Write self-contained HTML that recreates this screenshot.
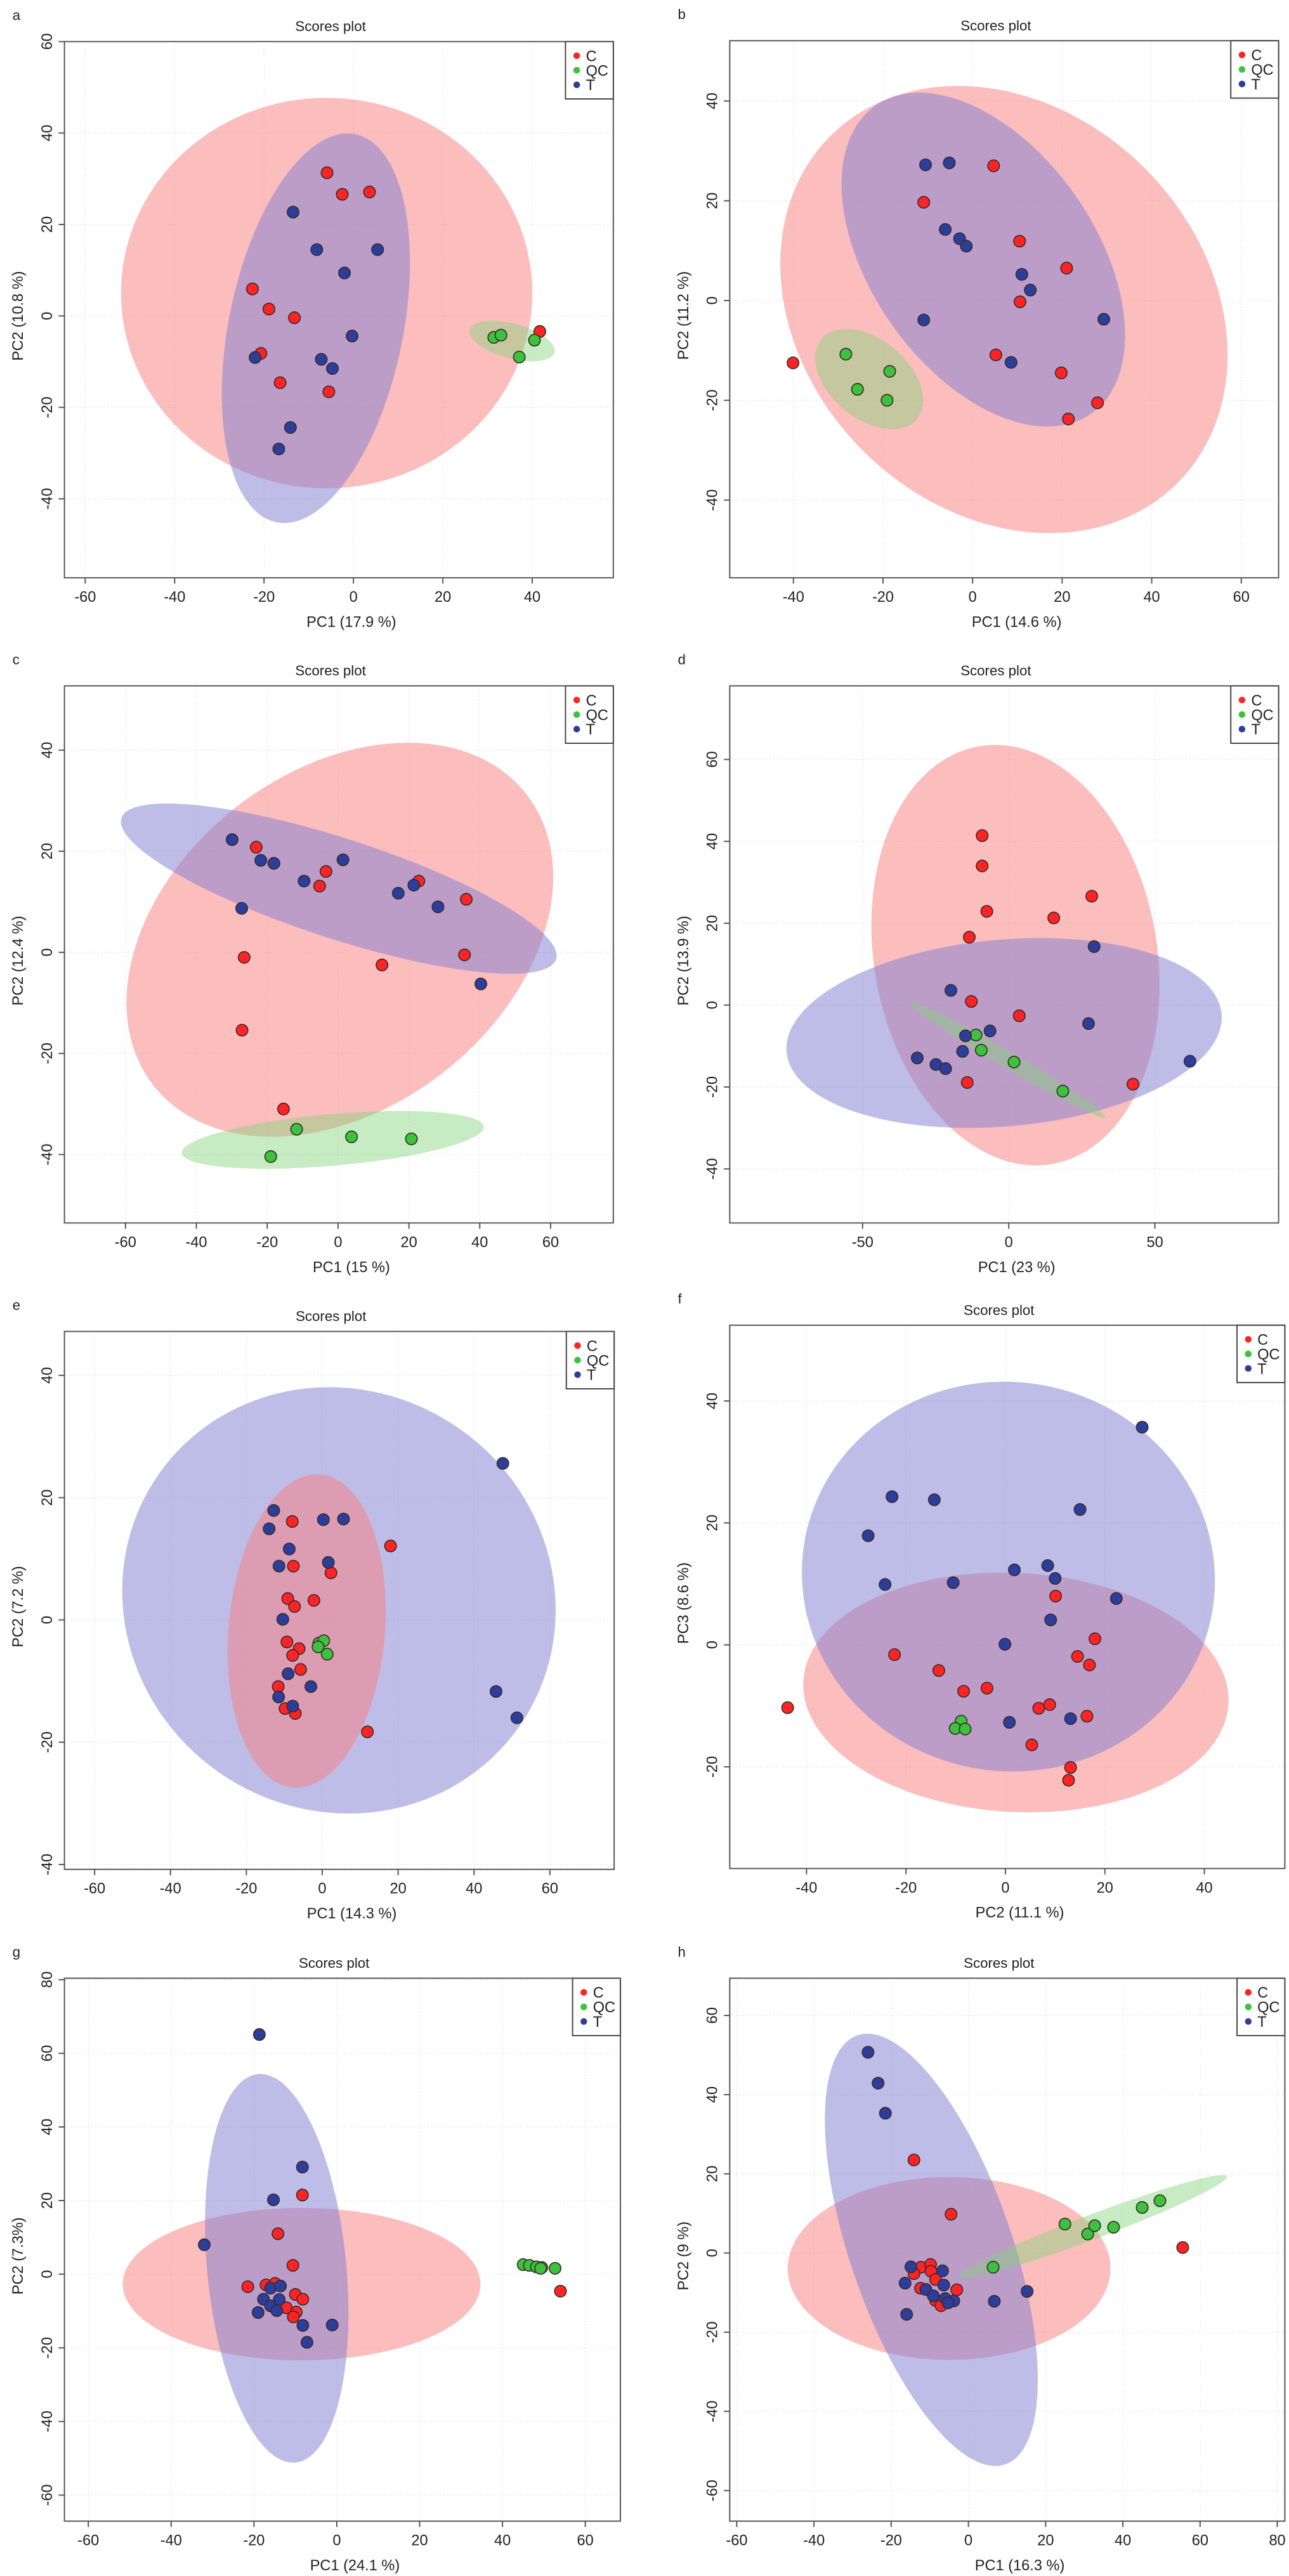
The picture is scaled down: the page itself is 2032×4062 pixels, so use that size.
<!DOCTYPE html>
<html><head><meta charset="utf-8"><style>
html,body{margin:0;padding:0;background:#fff}
svg{display:block}
text{font-family:"Liberation Sans",sans-serif;fill:#222}
</style></head><body>
<svg id="fig" xmlns="http://www.w3.org/2000/svg" width="2032" height="4062" viewBox="0 0 2032 4062"></svg>
<script>
// ---- data (PC scores) ----
const aC=[[-5.9,31.3],[-2.5,26.6],[3.6,27.1],[-22.6,5.9],[-18.9,1.5],[-13.2,-0.4],[-20.7,-8.2],[-16.4,-14.6],[-5.5,-16.6],[41.7,-3.4]];
const aT=[[-13.5,22.7],[-8.2,14.5],[5.4,14.5],[-2,9.4],[-0.3,-4.4],[-22,-9.1],[-7.2,-9.5],[-4.7,-11.5],[-14.1,-24.4],[-16.7,-29.1]];
const aQC=[[31.4,-4.7],[33,-4.2],[40.5,-5.3],[37.1,-9]];
const bC=[[4.7,27],[-10.9,19.7],[10.5,11.9],[21,6.5],[10.6,-0.25],[5.2,-10.9],[19.8,-14.5],[27.9,-20.5],[21.4,-23.75],[-40.1,-12.5]];
const bT=[[-10.5,27.2],[-5.2,27.6],[-6.1,14.25],[-2.9,12.4],[-1.4,10.9],[11,5.25],[12.9,2.1],[-10.9,-3.9],[29.3,-3.75],[8.6,-12.4]];
const bQC=[[-28.3,-10.75],[-18.5,-14.2],[-25.7,-17.8],[-19.1,-20]];
const cC=[[-23.1,20.8],[-3.4,16],[-5.2,13.1],[22.8,14.1],[36.2,10.5],[-26.5,-1],[12.4,-2.5],[35.7,-0.5],[-27.1,-15.4],[-15.4,-31]];
const cT=[[-29.9,22.3],[-21.8,18.2],[-18.1,17.6],[1.4,18.3],[-9.6,14.1],[17,11.7],[21.4,13.3],[28.2,9],[-27.2,8.7],[40.3,-6.25]];
const cQC=[[-11.7,-35],[3.8,-36.5],[20.7,-36.9],[-19,-40.4]];
const dC=[[-9.1,41.4],[-9.1,34],[-7.5,22.9],[28.4,26.6],[15.4,21.3],[-13.5,16.6],[-12.8,0.9],[3.6,-2.6],[-14.2,-18.9],[42.5,-19.3]];
const dT=[[29.2,14.3],[-19.8,3.6],[27.3,-4.5],[-6.4,-6.3],[-14.8,-7.5],[-15.8,-11.3],[-31.3,-12.9],[-24.9,-14.5],[-21.6,-15.5],[62,-13.7]];
const dQC=[[-11.2,-7.3],[-9.4,-11],[1.8,-13.9],[18.5,-21]];
const eC=[[-7.9,16.1],[-7.6,8.8],[2.3,7.7],[18,12.1],[-9.1,3.5],[-7.3,2.2],[-2.2,3.2],[-9.3,-3.6],[-6.1,-4.7],[-7.8,-5.8],[-5.7,-8.1],[-11.6,-10.9],[-9.8,-14.5],[-7.1,-15.3],[11.9,-18.3]];
const eT=[[-12.8,17.9],[-14,14.9],[0.3,16.4],[5.6,16.5],[-8.7,11.6],[-11.4,8.8],[1.6,9.4],[-10.4,0.1],[-9,-8.8],[-3,-10.9],[-11.5,-12.6],[-7.8,-14.1],[47.6,25.6],[45.8,-11.7],[51.3,-16]];
const eQC=[[-0.9,-3.8],[0.4,-3.4],[1.3,-5.6],[-1.1,-4.4]];
const fC=[[10.1,8],[18,1],[-22.3,-1.6],[14.5,-1.9],[16.9,-3.3],[-13.4,-4.2],[-8.4,-7.6],[-3.7,-7.1],[6.7,-10.4],[8.9,-9.8],[16.4,-11.7],[5.3,-16.4],[13.1,-20.1],[12.7,-22.2],[-43.8,-10.3]];
const fT=[[27.5,35.7],[-22.8,24.3],[-14.3,23.8],[15,22.2],[-27.6,17.9],[1.8,12.3],[8.5,13],[10,10.9],[-24.2,9.9],[-10.5,10.2],[22.3,7.6],[9.1,4.1],[-0.1,0.1],[0.8,-12.7],[13.1,-12.1]];
const fQC=[[-8.9,-12.5],[-10.1,-13.7],[-8.1,-13.8]];
const gC=[[-8.3,21.5],[-14.2,11],[-10.6,2.4],[-21.5,-3.4],[-17.1,-2.9],[-14.9,-2.5],[-10,-5.5],[-8.2,-6.8],[-12.2,-9.1],[-9.8,-10.3],[-10.5,-11.6],[54,-4.6]];
const gT=[[-18.7,65.1],[-8.3,29.1],[-15.3,20.2],[-32,8],[-16,-3.8],[-13.6,-3.2],[-17.7,-6.8],[-13.9,-6.9],[-16,-8.6],[-14.5,-9.9],[-19,-10.4],[-8.2,-13.9],[-1.1,-13.8],[-7.2,-18.5]];
const gQC=[[45,2.6],[46.5,2.4],[48.2,2],[49.5,1.8],[49.2,1.6],[52.7,1.6]];
const hC=[[-14.1,23.5],[-4.5,9.8],[55.5,1.4],[-12.3,-3.6],[-9.8,-2.9],[-14.1,-5.2],[-9.7,-4.6],[-8.5,-6.7],[-12.4,-8.9],[-3,-9.3],[-8.5,-12],[-7.1,-13.3]];
const hT=[[-26,50.7],[-23.4,42.9],[-21.5,35.3],[-14.9,-3.5],[-6.7,-4.5],[-16.4,-7.6],[-6.4,-8.1],[-11,-9.2],[-9.1,-10.8],[-6,-11.5],[-3.8,-12.1],[-5.3,-12.6],[6.7,-12.2],[15.2,-9.7],[-16,-15.5]];
const hQC=[[6.4,-3.6],[25,7.3],[30.9,4.8],[32.7,6.9],[37.6,6.5],[45,11.5],[49.6,13.2]];
// confidence ellipses: [cx, cy, rx (x units), ry (y units), angle deg]
const aEll={C:[-6,5,46,42.7,0],T:[-8.4,-2.7,19.5,43.3,11.5],QC:[35.5,-5.5,9.8,3.8,15]};
const bEll={C:[7,-1.8,54.8,40,45],T:[2.4,8.2,42,22.5,55],QC:[-23.1,-15.75,13.9,7.9,40]};
const cEll={C:[0.5,2.5,66.8,33.3,-38],T:[0.2,12.6,64.5,9.9,18],QC:[-1.5,-37.1,42.8,5.1,-5]};
const dEll={C:[2.3,12.2,48.4,51.8,-10],T:[-1.6,-6.8,74.7,22.8,-5],QC:[-0.3,-13.4,38.7,2,30.5]};
const eEll={T:[4.4,3.2,58,34.3,35],C:[-4.1,-1.8,20.6,25.7,5]};
const fEll={C:[2.1,-7.8,42.8,19.6,3],T:[0.6,11.2,41.6,31.9,10]};
const gEll={C:[-8.5,-2.7,43.2,20.7,0],T:[-14.5,1.6,16.8,53,-5.5]};
const hEll={C:[-5,-3.9,41.8,23.1,0],T:[-9.6,0.8,21,57.3,-19],QC:[32.4,6.7,37,3.1,-20.6]};
// tick labels
const ticksX={a:[-60,-40,-20,0,20,40],b:[-40,-20,0,20,40,60],c:[-60,-40,-20,0,20,40,60],d:[-50,0,50],e:[-60,-40,-20,0,20,40,60],f:[-40,-20,0,20,40],g:[-60,-40,-20,0,20,40,60],h:[-60,-40,-20,0,20,40,60,80]};
const ticksY={a:[-40,-20,0,20,40,60],b:[-40,-20,0,20,40],c:[-40,-20,0,20,40],d:[-40,-20,0,20,40,60],e:[-40,-20,0,20,40],f:[-20,0,20,40],g:[-60,-40,-20,0,20,40,60,80],h:[-60,-40,-20,0,20,40,60]};
const xTitles={a:"PC1 (17.9 %)",b:"PC1 (14.6 %)",c:"PC1 (15 %)",d:"PC1 (23 %)",e:"PC1 (14.3 %)",f:"PC2 (11.1 %)",g:"PC1 (24.1 %)",h:"PC1 (16.3 %)"};
const yTitles={a:"PC2 (10.8 %)",b:"PC2 (11.2 %)",c:"PC2 (12.4 %)",d:"PC2 (13.9 %)",e:"PC2 (7.2 %)",f:"PC3 (8.6 %)",g:"PC2 (7.3%)",h:"PC2 (9 %)"};

// ---- layout (panel-local coords, 1550 units per 1016 px) ----
const layout={
 a:{ox:0,oy:0,L:155,R:1475,T:100,B:1390,x0:850,kx:10.75,y0:760,ky:11,ellOrder:["C","T","QC"]},
 b:{ox:1016,oy:0,L:205,R:1525,T:98,B:1390,x0:789,kx:10.77,y0:723,ky:12,ellOrder:["C","T","QC"]},
 c:{ox:0,oy:1016,L:155,R:1475,T:100,B:1392,x0:813,kx:8.52,y0:741,ky:12.16,ellOrder:["C","T","QC"]},
 d:{ox:1016,oy:1016,L:205,R:1525,T:100,B:1392,x0:876,kx:7.03,y0:868,ky:9.85,ellOrder:["C","T","QC"]},
 e:{ox:0,oy:2032,L:155,R:1477,T:103,B:1397,x0:775,kx:9.125,y0:797,ky:14.71,ellOrder:["T","C"]},
 f:{ox:1016,oy:2032,L:205,R:1540,T:88,B:1395,x0:868,kx:11.96,y0:857,ky:14.67,ellOrder:["C","T"]},
 g:{ox:0,oy:3046,L:155,R:1492,T:112,B:1418,x0:810,kx:9.96,y0:824,ky:8.857,ellOrder:["C","T"]},
 h:{ox:1016,oy:3046,L:205,R:1540,T:112,B:1418,x0:779,kx:9.286,y0:773,ky:9.525,ellOrder:["C","T","QC"]}
};
const pts={a:[aC,aQC,aT],b:[bC,bQC,bT],c:[cC,cQC,cT],d:[dC,dQC,dT],e:[eC,eQC,eT],f:[fC,fQC,fT],g:[gC,gQC,gT],h:[hC,hQC,hT]};
const ells={a:aEll,b:bEll,c:cEll,d:dEll,e:eEll,f:fEll,g:gEll,h:hEll};
const fillCol={C:"rgb(250,128,128)",T:"rgb(128,128,210)",QC:"rgb(130,210,120)"};
const ptCol=["#ff2424","#3cc23c","#2c3e9c"];
const NS="http://www.w3.org/2000/svg";
const svg=document.getElementById('fig');
function mk(tag,attrs,parent){const e=document.createElementNS(NS,tag);for(const k in attrs)e.setAttribute(k,attrs[k]);parent.appendChild(e);return e;}

for(const id in layout){
 const P=layout[id];
 const sx=v=>P.x0+v*P.kx, sy=v=>P.y0-v*P.ky;
 const g=mk('g',{transform:`translate(${P.ox},${P.oy}) scale(${1016/1550})`},svg);
 
 
 const grid=mk('g',{},g);
 
 
 ticksX[id].forEach(t=>{const l=mk('line',{x1:sx(t),x2:sx(t),y1:P.T,y2:P.B,stroke:"#e4e4e4","stroke-width":2,"stroke-dasharray":"3 5"},grid);});
 ticksY[id].forEach(t=>{const l=mk('line',{x1:P.L,x2:P.R,y1:sy(t),y2:sy(t),stroke:"#e4e4e4","stroke-width":2,"stroke-dasharray":"3 5"},grid);});
 P.ellOrder.forEach(k=>{const E=ells[id][k];if(!E)return;
  const el=mk('ellipse',{cx:0,cy:0,rx:E[2]*P.kx,ry:E[3]*P.ky,fill:fillCol[k],"fill-opacity":k=="QC"?0.45:0.52,transform:`translate(${sx(E[0])},${sy(E[1])}) rotate(${E[4]})`},g);
  
  });
 pts[id].forEach((arr,gi)=>arr.forEach(p=>{
  const c=mk('circle',{cx:sx(p[0]),cy:sy(p[1]),r:14,fill:ptCol[gi],stroke:"#3a2a2a","stroke-width":2.5},g);
  
  }));
 const fr=mk('rect',{x:P.L,y:P.T,width:P.R-P.L,height:P.B-P.T,fill:"none",stroke:"#555","stroke-width":3},g);
 
 
 ticksX[id].forEach(t=>{
  mk('line',{x1:sx(t),x2:sx(t),y1:P.B,y2:P.B+14,stroke:"#555","stroke-width":3},g);
  const tx=mk('text',{x:sx(t),y:P.B+58,"text-anchor":"middle","font-size":36},g);tx.textContent=t;
  
  });
 ticksY[id].forEach(t=>{
  mk('line',{x1:P.L-14,x2:P.L,y1:sy(t),y2:sy(t),stroke:"#555","stroke-width":3},g);
  const tx=mk('text',{x:0,y:0,"text-anchor":"middle","font-size":36,transform:`translate(${P.L-30},${sy(t)}) rotate(-90)`},g);tx.textContent=t;
  
  });
 const cx=(P.L+P.R)/2;
 const xt=mk('text',{x:cx+30,y:P.B+118,"text-anchor":"middle","font-size":36},g);xt.textContent=xTitles[id];
 
 
 const yt=mk('text',{x:0,y:0,"text-anchor":"middle","font-size":36,transform:`translate(${P.L-100},${(P.T+P.B)/2+15}) rotate(-90)`},g);yt.textContent=yTitles[id];
 
 
 const tt=mk('text',{x:cx-20,y:P.T-25,"text-anchor":"middle","font-size":34},g);tt.textContent="Scores plot";
 
 
 const lt=mk('text',{x:P.L-125,y:P.T-52,"font-size":34},g);lt.textContent=id;
 
 
 const lg=mk('g',{},g);
 
 
 mk('rect',{x:P.R-115,y:P.T,width:115,height:138,fill:"#fff",stroke:"#444","stroke-width":3},lg);
 ["C","QC","T"].forEach((n,i)=>{
  mk('circle',{cx:P.R-88,cy:P.T+34+i*35,r:8,fill:ptCol[i]},lg);
  const t=mk('text',{x:P.R-66,y:P.T+47+i*35,"font-size":36},lg);t.textContent=n;
  
  });
}
</script>
</body></html>
